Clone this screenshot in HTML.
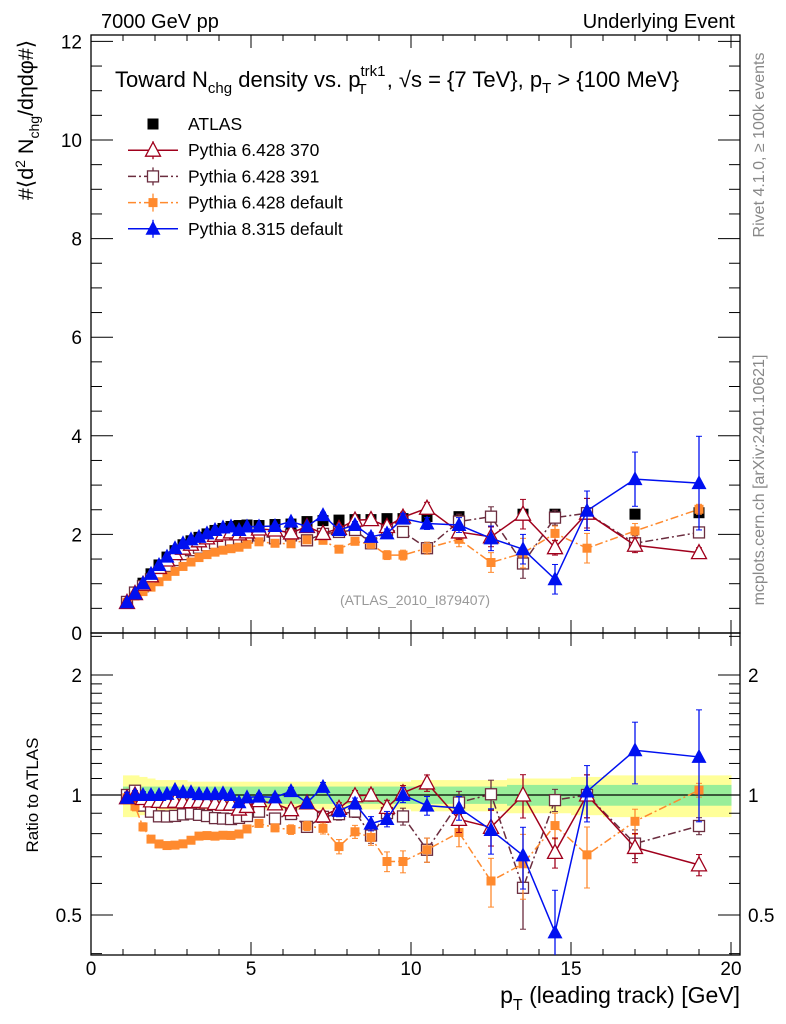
<!DOCTYPE html>
<html><head><meta charset="utf-8"><style>
body{margin:0;background:#fff}
svg{display:block;font-family:"Liberation Sans",sans-serif}
</style></head><body>
<svg id="c" width="786" height="1024" viewBox="0 0 786 1024"></svg>
<script>
const xs=[1.125,1.375,1.625,1.875,2.125,2.375,2.625,2.875,3.125,3.375,3.625,3.875,4.125,4.375,4.625,4.875,5.25,5.75,6.25,6.75,7.25,7.75,8.25,8.75,9.25,9.75,10.5,11.5,12.5,13.5,14.5,15.5,17,19];
const binEdges=[1,1.25,1.5,1.75,2,2.25,2.5,2.75,3,3.25,3.5,3.75,4,4.25,4.5,4.75,5,5.5,6,6.5,7,7.5,8,8.5,9,9.5,10,11,12,13,14,15,16,18,20];
const atlas=[0.63,0.80,1.01,1.20,1.38,1.54,1.67,1.79,1.87,1.94,2.01,2.08,2.12,2.16,2.18,2.19,2.18,2.20,2.21,2.26,2.28,2.29,2.30,2.30,2.32,2.32,2.36,2.36,2.35,2.41,2.41,2.43,2.41,2.44];
const bandTot=[0.12,0.12,0.11,0.10,0.09,0.09,0.09,0.09,0.08,0.08,0.08,0.08,0.08,0.08,0.08,0.08,0.08,0.08,0.08,0.08,0.08,0.08,0.08,0.08,0.08,0.08,0.09,0.09,0.09,0.10,0.10,0.11,0.12,0.12];
const bandStat=[0.05,0.05,0.05,0.05,0.05,0.05,0.05,0.05,0.05,0.05,0.05,0.05,0.05,0.05,0.05,0.05,0.05,0.05,0.05,0.05,0.05,0.05,0.05,0.05,0.05,0.05,0.05,0.05,0.05,0.06,0.06,0.06,0.06,0.06];
const p370=[0.62,0.80,0.99,1.16,1.33,1.48,1.61,1.72,1.80,1.87,1.93,1.98,2.01,2.05,2.01,2.05,2.11,2.09,2.03,2.16,2.02,2.12,2.29,2.30,2.16,2.35,2.53,2.05,1.95,2.41,1.73,2.43,1.78,1.63];
const p391=[0.63,0.82,0.95,1.09,1.22,1.36,1.48,1.60,1.68,1.73,1.78,1.82,1.85,1.88,1.91,1.94,1.98,1.92,1.98,1.88,2.01,2.05,2.09,1.82,2.09,2.05,1.72,2.26,2.36,1.41,2.34,2.43,1.82,2.04];
const p6def=[0.62,0.75,0.84,0.93,1.04,1.15,1.25,1.35,1.44,1.53,1.59,1.64,1.68,1.71,1.74,1.80,1.85,1.82,1.81,1.89,1.88,1.70,1.86,1.80,1.58,1.58,1.72,1.90,1.43,1.62,2.02,1.72,2.07,2.51];
const p8def=[0.62,0.80,1.01,1.20,1.38,1.55,1.72,1.82,1.90,1.95,2.02,2.09,2.14,2.16,2.09,2.16,2.16,2.17,2.26,2.16,2.39,2.09,2.19,1.95,2.02,2.32,2.22,2.19,1.92,1.70,1.09,2.48,3.12,3.04];
const mcErr=[0.02,0.02,0.02,0.02,0.02,0.02,0.02,0.02,0.03,0.03,0.03,0.03,0.03,0.03,0.03,0.03,0.04,0.04,0.05,0.05,0.06,0.07,0.07,0.08,0.09,0.1,0.12,0.15,0.2,0.3,0.15,0.3,0.15,0.1];
const blueErr=[0.02,0.02,0.02,0.02,0.02,0.02,0.02,0.02,0.03,0.03,0.03,0.03,0.03,0.03,0.03,0.03,0.04,0.04,0.05,0.05,0.06,0.07,0.07,0.08,0.09,0.1,0.12,0.15,0.25,0.3,0.3,0.4,0.55,0.95];
const mainTicks=[0,2,4,6,8,10,12];
const ratioTicks=[0.5,1,2];
const xTicks=[0,5,10,15,20];

const S=document.getElementById('c');
const NS='http://www.w3.org/2000/svg';
const L=91,R=740,T=35,MB=633,RB=955;
const X=v=>L+v*32;
const Y=v=>633-v*49.3;
const YR=r=>795-120*Math.log2(r);
function el(tag,at,parent){const e=document.createElementNS(NS,tag);for(const k in at)e.setAttribute(k,at[k]);(parent||S).appendChild(e);return e;}
function txt(s,x,y,at){const e=el('text',Object.assign({x:x,y:y,'font-size':16},at||{}));e.textContent=s;return e;}

const defs=el('defs',{});
const c1=el('clipPath',{id:'cm'},defs);el('rect',{x:L,y:T,width:R-L,height:MB-T},c1);
const c2=el('clipPath',{id:'cr'},defs);el('rect',{x:L,y:MB,width:R-L,height:RB-MB},c2);

const gb=el('g',{'clip-path':'url(#cr)'});


for(let i=0;i<xs.length;i++){
  const x0=X(binEdges[i]),x1=X(binEdges[i+1]);
  const y=el('rect',{x:x0,y:YR(1+bandTot[i]),width:x1-x0+0.5,height:YR(1-bandTot[i])-YR(1+bandTot[i]),fill:'#ffff99'},gb);
  
  
  const g=el('rect',{x:x0,y:YR(1+bandStat[i]),width:x1-x0+0.5,height:YR(1-bandStat[i])-YR(1+bandStat[i]),fill:'#99ee99'},gb);
  
  
}
el('line',{x1:L,x2:R,y1:YR(1),y2:YR(1),stroke:'#000','stroke-width':1.3});

const f1=el('rect',{x:L,y:T,width:R-L,height:MB-T,fill:'none',stroke:'#000','stroke-width':1.3});

const f2=el('rect',{x:L,y:MB,width:R-L,height:RB-MB,fill:'none',stroke:'#000','stroke-width':1.3});


for(let v=0;v<=20.3;v+=1){
  const maj=v%5===0,len=maj?13:6;
  [[T,1],[MB,-1],[MB,1],[RB,-1]].forEach(([y,d])=>el('line',{x1:X(v),x2:X(v),y1:y,y2:y+d*len,stroke:'#000'}));
}
xTicks.forEach(v=>{const t=txt(String(v),X(v),975,{'text-anchor':'middle','font-size':19});
});
for(let v=0;v<=12.01;v+=0.5){
  const maj=Math.abs(v%2)<1e-6,len=maj?22:11;
  el('line',{x1:L,x2:L+len,y1:Y(v),y2:Y(v),stroke:'#000'});
  el('line',{x1:R,x2:R-len,y1:Y(v),y2:Y(v),stroke:'#000'});
}
mainTicks.forEach(v=>{const t=txt(String(v),82,Y(v)+7,{'text-anchor':'end','font-size':19});
});
const rmin=[0.4,0.5,0.6,0.7,0.8,0.9,1,1.1,1.2,1.3,1.4,1.5,1.6,1.7,1.8,1.9,2,2.5];
rmin.forEach(v=>{const maj=ratioTicks.includes(v),len=maj?22:11;
  el('line',{x1:L,x2:L+len,y1:YR(v),y2:YR(v),stroke:'#000'});
  el('line',{x1:R,x2:R-len,y1:YR(v),y2:YR(v),stroke:'#000'});});
ratioTicks.forEach(v=>{
  const a=txt(String(v),82,YR(v)+7,{'text-anchor':'end','font-size':19});
  
  const b=txt(String(v),748,YR(v)+7,{'font-size':19});
  });

function marker(kind,x,y,col,g){
  if(kind==='sq')return el('rect',{x:x-5.5,y:y-5.5,width:11,height:11,fill:col},g);
  if(kind==='osq')return el('rect',{x:x-5.5,y:y-5.5,width:11,height:11,fill:'#fff',stroke:col,'stroke-width':1.3},g);
  if(kind==='ssq')return el('rect',{x:x-4.5,y:y-4.5,width:9,height:9,fill:col},g);
  if(kind==='otri')return el('path',{d:`M${x},${y-8}L${x+7.5},${y+6}L${x-7.5},${y+6}Z`,fill:'#fff',stroke:col,'stroke-width':1.3},g);
  return el('path',{d:`M${x},${y-8}L${x+7.5},${y+6}L${x-7.5},${y+6}Z`,fill:col},g);
}
const series=[
 {name:'pythia-6428-391',v:p391,e:mcErr,col:'#6b2d3f',mk:'osq',dash:'8,3,2,3'},
 {name:'pythia-6428-default',v:p6def,e:mcErr,col:'#ff8a2e',mk:'ssq',dash:'8,3,2,3'},
 {name:'pythia-6428-370',v:p370,e:mcErr,col:'#a0001c',mk:'otri',dash:''},
 {name:'pythia-8315-default',v:p8def,e:blueErr,col:'#0010f0',mk:'tri',dash:''}
];
function drawPanel(clip,fy,ratio){
  series.forEach(s=>{
    const g=el('g',{'clip-path':clip});
    
    
    const val=i=>ratio?s.v[i]/atlas[i]:s.v[i];
    const er=i=>ratio?s.e[i]/atlas[i]:s.e[i];
    const pts=xs.map((x,i)=>X(x)+','+fy(val(i))).join(' ');
    el('polyline',{points:pts,fill:'none',stroke:s.col,'stroke-width':1.5,'stroke-dasharray':s.dash},g);
    xs.forEach((x,i)=>{
      const lo=Math.max(val(i)-er(i),0.01),hi=val(i)+er(i);
      el('line',{x1:X(x),x2:X(x),y1:fy(lo),y2:fy(hi),stroke:s.col,'stroke-width':1.3},g);
      el('line',{x1:X(x)-3,x2:X(x)+3,y1:fy(lo),y2:fy(lo),stroke:s.col},g);
      el('line',{x1:X(x)-3,x2:X(x)+3,y1:fy(hi),y2:fy(hi),stroke:s.col},g);
      const m=marker(s.mk,X(x),fy(val(i)),s.col,g);
      
      
    });
  });
}
const ga=el('g',{'clip-path':'url(#cm)'});


xs.forEach((x,i)=>{const m=marker('sq',X(x),Y(atlas[i]),'#000',ga);

});
drawPanel('url(#cm)',Y,false);
drawPanel('url(#cr)',YR,true);

function named(e,n){return e;}
named(txt('7000 GeV pp',101,28,{'font-size':20}),'header-left');
named(txt('Underlying Event',735,28,{'font-size':20,'text-anchor':'end'}),'header-right');
const ti=txt('',115,87,{'font-size':22});named(ti,'plot-title');
ti.innerHTML='Toward N<tspan font-size="15" dy="6">chg</tspan><tspan dy="-6"> density vs. p</tspan><tspan font-size="15" dy="-11">trk1</tspan><tspan font-size="15" dx="-28" dy="18">T</tspan><tspan dx="20" dy="-7">, √s = {7 TeV}, p</tspan><tspan font-size="15" dy="6">T</tspan><tspan dy="-6"> &gt; {100 MeV}</tspan>';
const leg=[['sq','#000','ATLAS',''],['otri','#a0001c','Pythia 6.428 370',''],['osq','#6b2d3f','Pythia 6.428 391','8,3,2,3'],['ssq','#ff8a2e','Pythia 6.428 default','8,3,2,3'],['tri','#0010f0','Pythia 8.315 default','']];
leg.forEach((l,i)=>{const y=124+i*26.2;const g=el('g',{});
  
  
  if(i>0)el('line',{x1:128,x2:178,y1:y,y2:y,stroke:l[1],'stroke-width':1.5,'stroke-dasharray':l[3]},g);
  if(i>0)el('line',{x1:153,x2:153,y1:y-9,y2:y+9,stroke:l[1],'stroke-width':1.3},g);
  marker(l[0],153,y,l[1],g);
  const t=txt(l[2],188,y+6,{'font-size':17.5});g.appendChild(t);});
named(txt('(ATLAS_2010_I879407)',415,605,{'font-size':14,fill:'#999','text-anchor':'middle'}),'analysis-id');
named(txt('Rivet 4.1.0, ≥ 100k events',0,0,{'font-size':16,fill:'#888','text-anchor':'middle',transform:'translate(764,145) rotate(-90)'}),'rivet-label');
named(txt('mcplots.cern.ch [arXiv:2401.10621]',0,0,{'font-size':16,fill:'#888','text-anchor':'middle',transform:'translate(764,480) rotate(-90)'}),'mcplots-label');
const yl=txt('',0,0,{'font-size':21.5,'text-anchor':'middle',transform:'translate(33,120) rotate(-90)'});named(yl,'y-axis-title');
yl.innerHTML='#⟨d<tspan font-size="14" dy="-8">2</tspan><tspan dy="8"> N</tspan><tspan font-size="14" dy="6">chg</tspan><tspan dy="-6">/dηdφ#⟩</tspan>';
named(txt('Ratio to ATLAS',0,0,{'font-size':17,'text-anchor':'middle',transform:'translate(38,795) rotate(-90)'}),'ratio-axis-title');
const xl=txt('',740,1003,{'font-size':23,'text-anchor':'end'});named(xl,'x-axis-title');
xl.innerHTML='p<tspan font-size="16" dy="7">T</tspan><tspan dy="-7"> (leading track) [GeV]</tspan>';
</script>
</body></html>
